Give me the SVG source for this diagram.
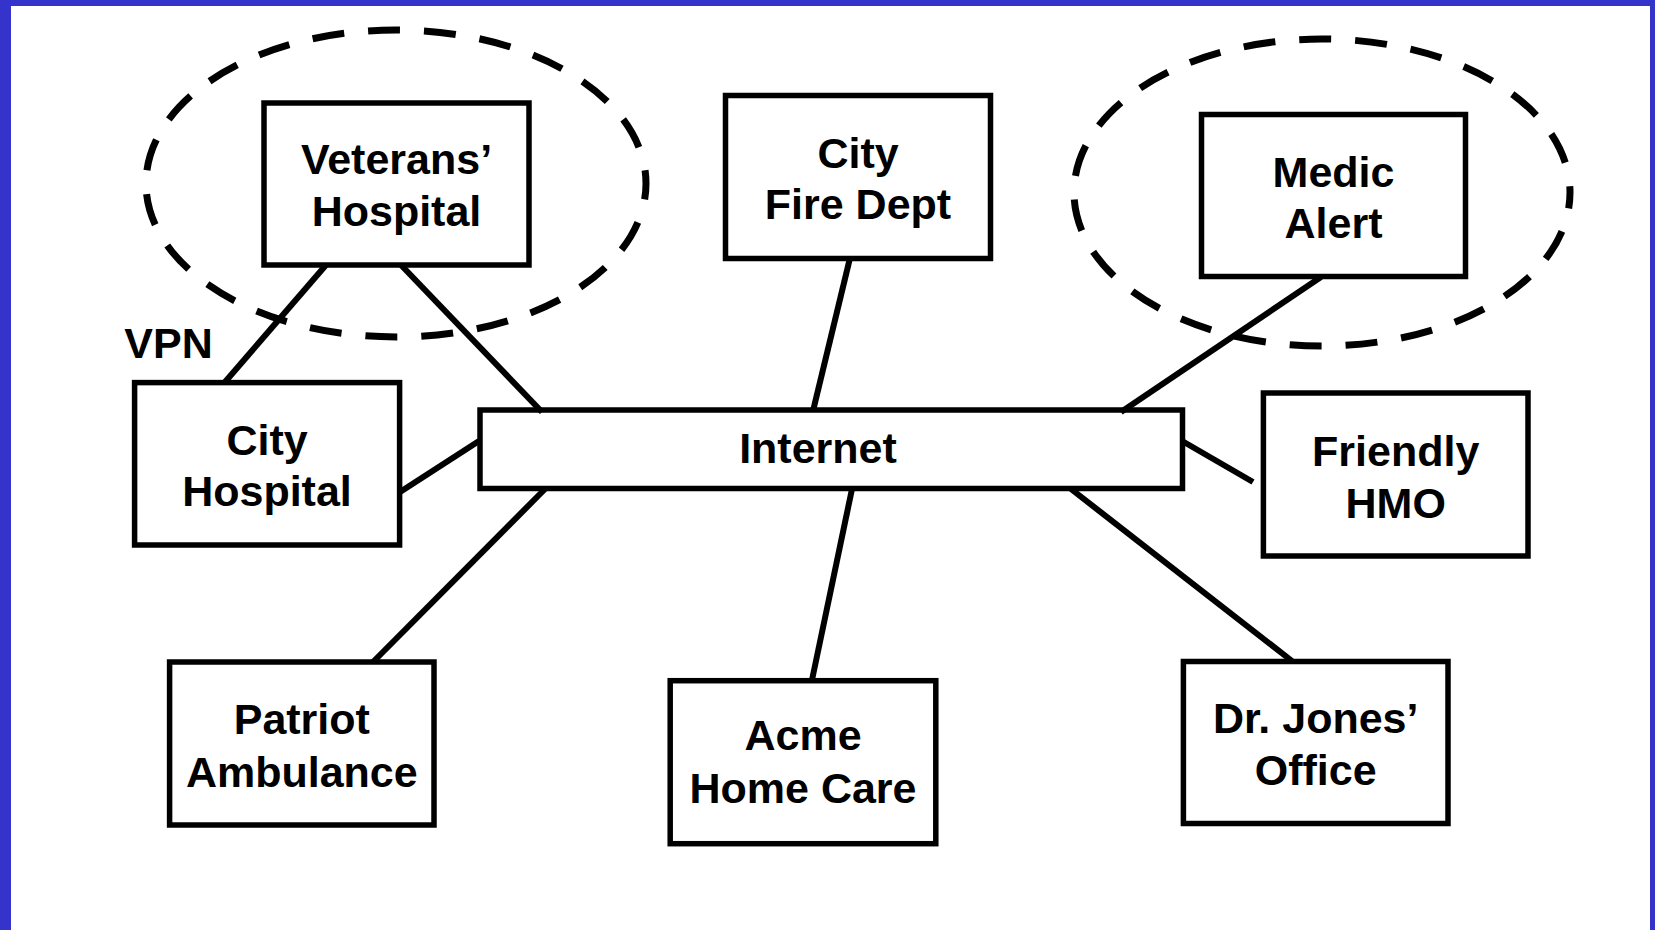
<svg xmlns="http://www.w3.org/2000/svg" width="1655" height="930" viewBox="0 0 1655 930">
<style>
.box{fill:#fff;stroke:#000;stroke-width:5.5}
.lbl{font-family:"Liberation Sans",Arial,Helvetica,sans-serif;font-weight:bold;font-size:43px;fill:#000;text-anchor:middle}
.conn line{stroke:#000;stroke-width:6;stroke-linecap:butt}
.grp{fill:none;stroke:#000;stroke-width:7;stroke-dasharray:32 24;stroke-dashoffset:16}
</style>
<rect x="0" y="0" width="1655" height="930" fill="#fff"/>
<g id="frame" fill="#3434CC">
<rect x="0" y="0" width="1655" height="6"/>
<rect x="0" y="0" width="11" height="930"/>
<rect x="1650" y="0" width="5" height="930"/>
</g>
<g id="groups">
<ellipse class="grp" cx="396" cy="183.5" rx="250" ry="153.5"/>
<ellipse class="grp" cx="1322" cy="192.5" rx="248" ry="153.5"/>
</g>
<g id="veterans">
<rect class="box" x="264" y="103" width="265" height="162"/>
<text class="lbl" x="396.5" y="174">Veterans’</text>
<text class="lbl" x="396.5" y="226">Hospital</text>
</g>
<g id="firedept">
<rect class="box" x="725.5" y="95.5" width="265" height="163"/>
<text class="lbl" x="858" y="168">City</text>
<text class="lbl" x="858" y="219">Fire Dept</text>
</g>
<g id="medicalert">
<rect class="box" x="1201.5" y="114.5" width="264" height="162"/>
<text class="lbl" x="1333.5" y="186.5">Medic</text>
<text class="lbl" x="1333.5" y="238">Alert</text>
</g>
<g id="cityhospital">
<rect class="box" x="134.6" y="382.6" width="265" height="162.4"/>
<text class="lbl" x="267" y="455">City</text>
<text class="lbl" x="267" y="506">Hospital</text>
</g>
<g id="internet">
<rect class="box" x="480" y="410" width="702.5" height="78.5"/>
<text class="lbl" x="818" y="463">Internet</text>
</g>
<g id="friendlyhmo">
<rect class="box" x="1263.4" y="393" width="264.6" height="163"/>
<text class="lbl" x="1395.7" y="466">Friendly</text>
<text class="lbl" x="1395.7" y="518">HMO</text>
</g>
<g id="patriot">
<rect class="box" x="169.6" y="662" width="264.4" height="163"/>
<text class="lbl" x="301.8" y="734">Patriot</text>
<text class="lbl" x="301.8" y="787">Ambulance</text>
</g>
<g id="acme">
<rect class="box" x="670.2" y="680.7" width="265.6" height="163"/>
<text class="lbl" x="803" y="750">Acme</text>
<text class="lbl" x="803" y="803">Home Care</text>
</g>
<g id="drjones">
<rect class="box" x="1183.4" y="661.5" width="264.6" height="162"/>
<text class="lbl" x="1315.7" y="732.5">Dr. Jones’</text>
<text class="lbl" x="1315.7" y="785">Office</text>
</g>
<g id="connectors" class="conn">
<line x1="326" y1="265" x2="225" y2="382"/>
<line x1="401" y1="265" x2="542" y2="412"/>
<line x1="400" y1="492" x2="479" y2="441"/>
<line x1="545" y1="489" x2="373" y2="662"/>
<line x1="850" y1="258" x2="813" y2="411"/>
<line x1="852" y1="489" x2="812" y2="680"/>
<line x1="1321" y1="277" x2="1121" y2="412"/>
<line x1="1183" y1="441.5" x2="1253" y2="482"/>
<line x1="1071" y1="489" x2="1292" y2="661"/>
</g>
<g id="vpn">
<text class="lbl" x="168.5" y="358">VPN</text>
</g>
</svg>
